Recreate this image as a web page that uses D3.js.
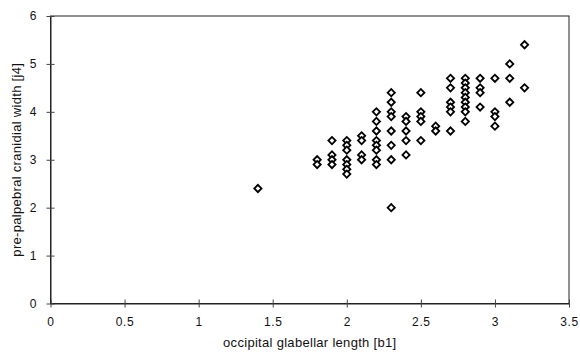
<!DOCTYPE html>
<html><head><meta charset="utf-8">
<script src="https://cdn.jsdelivr.net/npm/d3@7"></script>
<style>body{margin:0;background:#fff}svg{display:block}text{font-family:"Liberation Sans",Arial,sans-serif;fill:#111}</style>
</head><body><div id="c"></div>
<script>
const xTicks=[0,0.5,1,1.5,2,2.5,3,3.5];
const xTickLabels=["0","0.5","1","1.5","2","2.5","3","3.5"];
const yTicks=[0,1,2,3,4,5,6];
const yTickLabels=["0","1","2","3","4","5","6"];
const xTitle="occipital glabellar length [b1]";
const yTitle="pre-palpebral cranidial width [j4]";
const bx=[1.4,1.8,1.8,1.9,1.9,1.9,1.9,2.0,2.0,2.0,2.0,2.0,2.0,2.0,2.1,2.1,2.1,2.1,
2.2,2.2,2.2,2.2,2.2,2.2,2.2,2.2,2.3,2.3,2.3,2.3,2.3,2.3,2.3,2.3,
2.4,2.4,2.4,2.4,2.4,2.5,2.5,2.5,2.5,2.5,2.6,2.6,
2.7,2.7,2.7,2.7,2.7,2.7,2.8,2.8,2.8,2.8,2.8,2.8,2.8,2.8,2.8,
2.9,2.9,2.9,2.9,3.0,3.0,3.0,3.0,3.1,3.1,3.1,3.2,3.2];
const jy=[2.4,3.0,2.9,3.4,3.1,3.0,2.9,3.4,3.3,3.2,3.0,2.9,2.8,2.7,3.5,3.4,3.1,3.0,
4.0,3.8,3.6,3.4,3.3,3.2,3.0,2.9,4.4,4.2,4.0,3.9,3.6,3.3,3.0,2.0,
3.9,3.8,3.6,3.4,3.1,4.4,4.0,3.9,3.8,3.4,3.7,3.6,
4.7,4.5,4.2,4.1,4.0,3.6,4.7,4.6,4.5,4.4,4.3,4.2,4.1,4.0,3.8,
4.7,4.5,4.4,4.1,4.7,4.0,3.9,3.7,5.0,4.7,4.2,5.4,4.5];

const W=580,H=360;
const svg=d3.select("#c").append("svg").attr("width",W).attr("height",H);
const x=d3.scaleLinear().domain([0,3.5]).range([50.5,569]);
const y=d3.scaleLinear().domain([0,6]).range([303.5,16]);

svg.append("rect").attr("x",x(0)).attr("y",y(6)).attr("width",x(3.5)-x(0)).attr("height",y(0)-y(6))
  .attr("fill","none").attr("stroke","#222").attr("stroke-width",1);

const xa=svg.append("g").attr("transform",`translate(0,${y(0)})`)
  .call(d3.axisBottom(x).tickValues(xTicks).tickFormat((d,i)=>xTickLabels[i]).tickSizeInner(4).tickSizeOuter(0).tickPadding(10));
xa.select(".domain").attr("stroke","#222");
xa.selectAll(".tick line").attr("stroke","#444").attr("y1",-4);
xa.selectAll("text").attr("font-size",12).attr("fill","#111").attr("letter-spacing",0.6);

const ya=svg.append("g").attr("transform",`translate(${x(0)},0)`)
  .call(d3.axisLeft(y).tickValues(yTicks).tickFormat((d,i)=>yTickLabels[i]).tickSizeInner(4).tickSizeOuter(0).tickPadding(10));
ya.select(".domain").attr("stroke","#222");
ya.selectAll(".tick line").attr("stroke","#444").attr("x1",4);
ya.selectAll("text").attr("font-size",12).attr("fill","#111");

svg.append("text").attr("x",(x(0)+x(3.5))/2).attr("y",347).attr("text-anchor","middle")
  .attr("font-size",13).attr("letter-spacing",0.3).text(xTitle);
svg.append("text").attr("transform",`translate(16,${(y(0)+y(6))/2}) rotate(-90)`)
  .attr("text-anchor","middle").attr("dy","0.35em").attr("font-size",13).attr("letter-spacing",0.3).text(yTitle);

const sym=d3.symbol().type(d3.symbolSquare).size(26);
svg.append("g").selectAll("path").data(bx.map((v,i)=>[v,jy[i]])).join("path")
  .attr("transform",d=>`translate(${x(d[0])},${y(d[1])}) rotate(45)`)
  .attr("d",sym).attr("fill","#fff").attr("stroke","#000").attr("stroke-width",1.8);
</script></body></html>
